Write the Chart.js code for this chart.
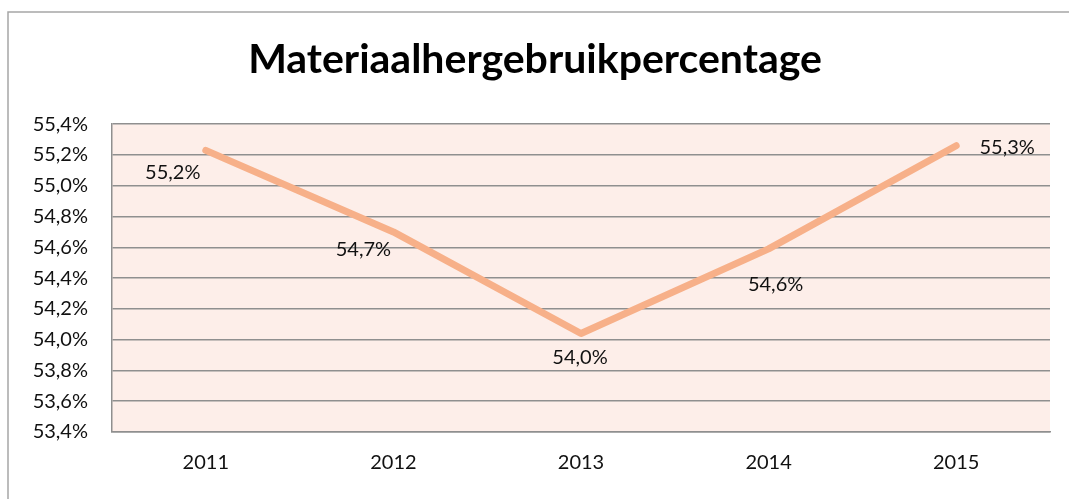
<!DOCTYPE html>
<html>
<head>
<meta charset="utf-8">
<script src="https://cdn.jsdelivr.net/npm/chart.js@4"></script>
<style>
  html, body { margin: 0; padding: 0; background: #fff; }
  #wrap { width: 1069px; height: 499px; position: relative; }
</style>
</head>
<body>
<div id="wrap"><canvas id="chart"></canvas></div>
<script>
// Chart data
const years = ['2011', '2012', '2013', '2014', '2015'];
const percentages = [55.23, 54.70, 54.04, 54.59, 55.26];
const yMin = 53.4;
const yMax = 55.4;
const yStep = 0.2;

// Label offsets relative to each point (px), as placed in the original
const labelOffsets = [[-33, 22], [-30, 18], [-1, 24], [7, 36], [51, 2]];

function fmtPct(v) {
    return v.toFixed(1).replace('.', ',') + '%';
}

// Frame + plot background
const backgroundPlugin = {
    id: 'backgroundPlugin',
    beforeDraw(chart) {
        const ctx = chart.ctx;
        const area = chart.chartArea;
        ctx.save();
        ctx.strokeStyle = '#a6a6a6';
        ctx.lineWidth = 1.5;
        ctx.beginPath();
        ctx.moveTo(8, chart.height);
        ctx.lineTo(8, 12);
        ctx.lineTo(chart.width, 12);
        ctx.stroke();
        ctx.fillStyle = '#fdeee9';
        ctx.fillRect(area.left, area.top, area.right - area.left, area.bottom - area.top);
        ctx.restore();
    }
};

// Value labels next to the points
const valueLabels = {
    id: 'valueLabels',
    afterDatasetsDraw(chart) {
        const ctx = chart.ctx;
        const meta = chart.getDatasetMeta(0);
        ctx.save();
        ctx.font = '20px Lato';
        ctx.fillStyle = '#111';
        ctx.textAlign = 'center';
        ctx.textBaseline = 'middle';
        meta.data.forEach((pt, i) => {
            const off = labelOffsets[i];
            ctx.fillText(fmtPct(percentages[i]), pt.x + off[0], pt.y + off[1]);
        });
        ctx.restore();
    }
};

const ctx = document.getElementById('chart').getContext('2d');
new Chart(ctx, {
    type: 'line',
    data: {
        labels: years,
        datasets: [{
            data: percentages,
            borderColor: '#f7b089',
            borderWidth: 7,
            borderCapStyle: 'round',
            borderJoinStyle: 'round',
            pointRadius: 0,
            tension: 0,
            fill: false
        }]
    },
    options: {
        responsive: true,
        maintainAspectRatio: false,
        animation: false,
        layout: {
            padding: { left: 20, right: 19, top: 0, bottom: 0 }
        },
        plugins: {
            legend: { display: false },
            tooltip: { enabled: false },
            title: {
                display: true,
                text: 'Materiaalhergebruikpercentage',
                color: '#000',
                font: { family: 'Lato', size: 41, weight: 'bold' },
                padding: { top: 35, bottom: 40 }
            }
        },
        scales: {
            x: {
                offset: true,
                grid: { display: false, drawTicks: false },
                border: { display: true, color: '#8f8f8f', width: 1.5 },
                ticks: {
                    color: '#111',
                    font: { family: 'Lato', size: 20 },
                    padding: 19,
                    maxRotation: 0
                },
                afterFit(scale) { scale.height = 67; }
            },
            y: {
                min: yMin,
                max: yMax,
                grid: { color: '#8f8f8f', lineWidth: 1.5, drawTicks: false },
                border: { display: true, color: '#8f8f8f', width: 1.5 },
                ticks: {
                    stepSize: yStep,
                    color: '#111',
                    font: { family: 'Lato', size: 20 },
                    padding: 24,
                    callback: v => fmtPct(v)
                },
                afterFit(scale) { scale.width = 92; }
            }
        }
    },
    plugins: [backgroundPlugin, valueLabels]
});
</script>
</body>
</html>
